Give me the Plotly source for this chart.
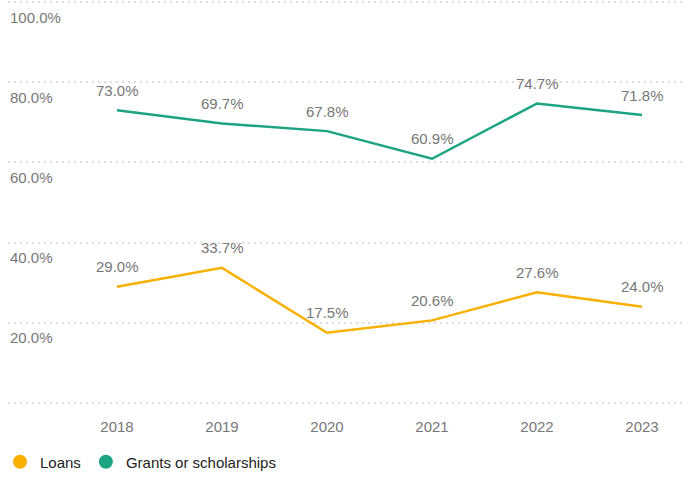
import plotly.graph_objects as go

years = [2018, 2019, 2020, 2021, 2022, 2023]
loans = [29.0, 33.7, 17.5, 20.6, 27.6, 24.0]
grants = [73.0, 69.7, 67.8, 60.9, 74.7, 71.8]
y_ticks = [0, 20, 40, 60, 80, 100]
y_ticktext = ["", "20.0%", "40.0%", "60.0%", "80.0%", "100.0%"]

LOAN_C = "#F9B000"
GRANT_C = "#1BA382"
GRAY = "#777777"
FONT = "Liberation Sans, Arial, sans-serif"
SHADOW = "1px 1px 1px #fff, -1px -1px 1px #fff, 1px -1px 1px #fff, -1px 1px 1px #fff"

fig = go.Figure()
for name, vals, col in [("Loans", loans, LOAN_C), ("Grants or scholarships", grants, GRANT_C)]:
    fig.add_trace(go.Scatter(x=years, y=vals, mode="lines", line=dict(color=col, width=2.5),
                             showlegend=False, hoverinfo="skip"))
    for x, v in zip(years, vals):
        fig.add_annotation(x=x, y=v, text=f"{v:.1f}%", showarrow=False, yshift=20,
                           font=dict(size=15, color=GRAY, family=FONT, shadow=SHADOW))
for name, col in [("Loans", LOAN_C), ("Grants or scholarships", GRANT_C)]:
    fig.add_trace(go.Scatter(x=[None], y=[None], mode="markers", name=name,
                             marker=dict(color=col, size=14, symbol="circle")))

# y tick labels, placed just below each gridline at the left edge
for v, t in zip(y_ticks, y_ticktext):
    if t:
        fig.add_annotation(x=0, xref="paper", xanchor="left", y=v, yref="y", yanchor="middle",
                           yshift=-15, text=t, showarrow=False,
                           font=dict(size=15, color=GRAY, family=FONT))

fig.update_layout(
    width=691, height=477,
    margin=dict(l=8, r=8, t=0, b=72),
    plot_bgcolor="white", paper_bgcolor="white",
    font=dict(family=FONT, size=15, color=GRAY),
    showlegend=True,
    legend=dict(orientation="h", x=-0.0237, xref="paper", xanchor="left",
                y=0.0314, yref="container", yanchor="middle",
                font=dict(size=15, color="#222222", family=FONT),
                itemwidth=30, traceorder="normal"),
    xaxis=dict(range=[2018 - 109 / 105, 2023 + 41 / 105], tickvals=years,
               showgrid=False, zeroline=False, showline=False, ticks="", automargin=False,
               tickfont=dict(size=15, color=GRAY), ticklabelstandoff=11),
    yaxis=dict(range=[-0.5, 100.5], tickvals=y_ticks, showticklabels=False,
               showgrid=True, gridcolor="#dddddd", gridwidth=2, griddash="2px,4px",
               zeroline=False, showline=False, ticks="", automargin=False),
)
fig.write_html("out.html", config={"displayModeBar": False},
               post_script="document.body.style.margin='0';")
